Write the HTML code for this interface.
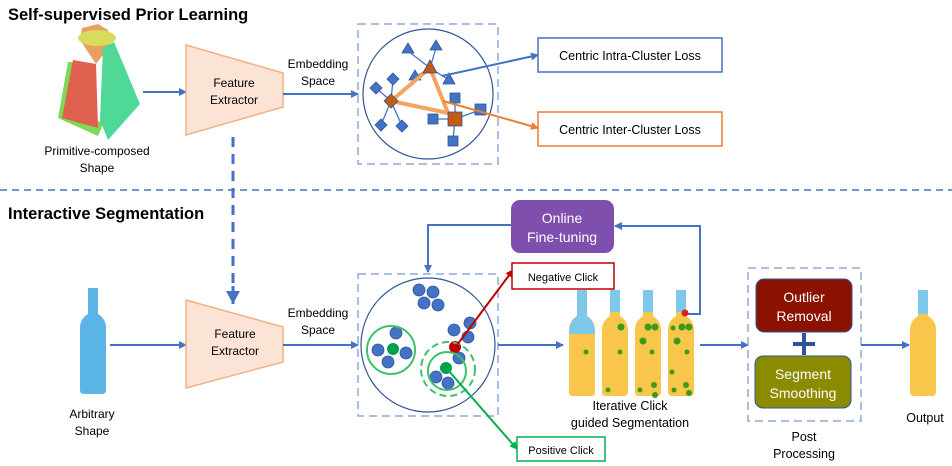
<!DOCTYPE html>
<html><head><meta charset="utf-8"><style>
html,body{margin:0;padding:0;background:#fff;}
svg{display:block;font-family:"Liberation Sans",Arial,sans-serif;}
</style></head><body>
<svg width="952" height="466" viewBox="0 0 952 466" xmlns="http://www.w3.org/2000/svg">
<defs>
<marker id="ab" markerWidth="8" markerHeight="8" refX="7" refY="4" orient="auto" markerUnits="userSpaceOnUse"><path d="M0,0 L8,4 L0,8 z" fill="#4472c4"/></marker>
<marker id="ao" markerWidth="8" markerHeight="8" refX="7" refY="4" orient="auto" markerUnits="userSpaceOnUse"><path d="M0,0 L8,4 L0,8 z" fill="#ed7d31"/></marker>
<marker id="ar" markerWidth="8" markerHeight="8" refX="7" refY="4" orient="auto" markerUnits="userSpaceOnUse"><path d="M0,0 L8,4 L0,8 z" fill="#c00000"/></marker>
<marker id="ag" markerWidth="8" markerHeight="8" refX="7" refY="4" orient="auto" markerUnits="userSpaceOnUse"><path d="M0,0 L8,4 L0,8 z" fill="#00b050"/></marker>
<marker id="abig" markerWidth="14" markerHeight="14" refX="13" refY="7" orient="auto" markerUnits="userSpaceOnUse"><path d="M0,0 L13,7 L0,14 z" fill="#4472c4"/></marker>
<g id="bottle"><path d="M-5,0 h10 v26 q8,5 8,14 v62 q0,4 -4,4 h-18 q-4,0 -4,-4 v-62 q0,-9 8,-14 z"/></g>
</defs>

<text x="8" y="20" font-size="16.5" font-weight="bold">Self-supervised Prior Learning</text>
<text x="8" y="219" font-size="16.5" font-weight="bold">Interactive Segmentation</text>
<line x1="0" y1="190" x2="952" y2="190" stroke="#4472c4" stroke-width="1.5" stroke-dasharray="7,5"/>

<!-- top shape -->
<polygon points="68,62 58,118 98,136 104,122 66,116 74,62" fill="#7ed957"/>
<polygon points="73,60 62,118 98,128 96,64" fill="#e0604f"/>
<polygon points="80,40 82,28 98,24 108,30 110,46 96,64" fill="#e8a060"/>
<ellipse cx="97" cy="38" rx="19" ry="8" fill="#d8dc5a"/>
<polygon points="103,48 114,42 140,104 108,140 100,120" fill="#4fd896"/>
<text x="97" y="155" font-size="12" text-anchor="middle">Primitive-composed</text>
<text x="97" y="172" font-size="12" text-anchor="middle">Shape</text>
<line x1="143" y1="92" x2="186" y2="92" stroke="#4472c4" stroke-width="2" marker-end="url(#ab)"/>

<polygon points="186,45 283,73 283,107 186,135" fill="#fbe4d5" stroke="#f4b183" stroke-width="1.5"/>
<text x="234" y="87" font-size="12" text-anchor="middle">Feature</text>
<text x="234" y="104" font-size="12" text-anchor="middle">Extractor</text>
<text x="318" y="68" font-size="12" text-anchor="middle">Embedding</text>
<text x="318" y="85" font-size="12" text-anchor="middle">Space</text>
<line x1="283" y1="94" x2="358" y2="94" stroke="#4472c4" stroke-width="2" marker-end="url(#ab)"/>
<line x1="233" y1="137" x2="233" y2="288" stroke="#4472c4" stroke-width="3" stroke-dasharray="10,7"/>
<line x1="233" y1="286" x2="233" y2="304" stroke="#4472c4" stroke-width="3" marker-end="url(#abig)"/>

<rect x="358" y="24" width="140" height="140" fill="none" stroke="#8faadc" stroke-width="1.5" stroke-dasharray="8,5"/>
<circle cx="428" cy="94" r="65" fill="none" stroke="#2f5597" stroke-width="1.2"/>
<g stroke="#4472c4" stroke-width="1.3">
<line x1="430" y1="68" x2="408" y2="51"/><line x1="430" y1="68" x2="436" y2="48"/><line x1="430" y1="68" x2="415" y2="77"/><line x1="430" y1="68" x2="449" y2="80"/>
<line x1="391" y1="101" x2="376" y2="88"/><line x1="391" y1="101" x2="393" y2="79"/><line x1="391" y1="101" x2="381" y2="125"/><line x1="391" y1="101" x2="402" y2="126"/>
<line x1="455" y1="119" x2="433" y2="119"/><line x1="455" y1="119" x2="455" y2="99"/><line x1="455" y1="119" x2="480" y2="110"/><line x1="455" y1="119" x2="453" y2="140"/>
</g>
<g fill="#4472c4" stroke="#2f5597" stroke-width="0.8">
<polygon points="408,43 402,53 414,53"/><polygon points="436,40 430,50 442,50"/><polygon points="415,70 409,80 421,80"/><polygon points="449,73 443,84 455,84"/>
<polygon points="376,82 382,88 376,94 370,88"/><polygon points="393,73 399,79 393,85 387,79"/><polygon points="381,119 387,125 381,131 375,125"/><polygon points="402,120 408,126 402,132 396,126"/>
<rect x="428" y="114" width="10" height="10"/><rect x="450" y="93" width="10" height="10"/><rect x="475" y="104" width="11" height="11"/><rect x="448" y="136" width="10" height="10"/>
</g>
<polygon points="430,68 391,101 448,113" fill="none" stroke="#f4a460" stroke-width="4" stroke-linejoin="round"/>
<polygon points="430,60 423,73 437,73" fill="#c55a11" stroke="#2f5597" stroke-width="0.8"/>
<polygon points="391,94 398,101 391,108 384,101" fill="#c55a11" stroke="#2f5597" stroke-width="0.8"/>
<rect x="448" y="112" width="14" height="14" fill="#c55a11" stroke="#2f5597" stroke-width="0.8"/>
<line x1="442" y1="76" x2="538" y2="55" stroke="#4472c4" stroke-width="2" marker-end="url(#ab)"/>
<line x1="443" y1="101" x2="538" y2="128" stroke="#ed7d31" stroke-width="2" marker-end="url(#ao)"/>
<rect x="538" y="38" width="184" height="34" fill="#fff" stroke="#4472c4" stroke-width="1.5"/>
<text x="630" y="60" font-size="12.5" text-anchor="middle">Centric Intra-Cluster Loss</text>
<rect x="538" y="112" width="184" height="34" fill="#fff" stroke="#ed7d31" stroke-width="1.5"/>
<text x="630" y="134" font-size="12.5" text-anchor="middle">Centric Inter-Cluster Loss</text>

<!-- bottom -->
<use href="#bottle" x="93" y="288" fill="#5ab4e5"/>
<text x="92" y="418" font-size="12" text-anchor="middle">Arbitrary</text>
<text x="92" y="435" font-size="12" text-anchor="middle">Shape</text>
<line x1="110" y1="345" x2="186" y2="345" stroke="#4472c4" stroke-width="2" marker-end="url(#ab)"/>
<polygon points="186,300 283,327 283,362 186,388" fill="#fbe4d5" stroke="#f4b183" stroke-width="1.5"/>
<text x="235" y="338" font-size="12" text-anchor="middle">Feature</text>
<text x="235" y="355" font-size="12" text-anchor="middle">Extractor</text>
<text x="318" y="317" font-size="12" text-anchor="middle">Embedding</text>
<text x="318" y="334" font-size="12" text-anchor="middle">Space</text>
<line x1="283" y1="345" x2="358" y2="345" stroke="#4472c4" stroke-width="2" marker-end="url(#ab)"/>

<rect x="358" y="274" width="140" height="142" fill="none" stroke="#8faadc" stroke-width="1.5" stroke-dasharray="8,5"/>
<circle cx="428" cy="345" r="67" fill="none" stroke="#2f5597" stroke-width="1.2"/>
<g fill="#4472c4" stroke="#2f5597" stroke-width="0.8">
<circle cx="419" cy="290" r="6"/><circle cx="433" cy="292" r="6"/><circle cx="424" cy="303" r="6"/><circle cx="438" cy="305" r="6"/>
<circle cx="470" cy="323" r="6"/><circle cx="454" cy="330" r="6"/><circle cx="468" cy="337" r="6"/>
<circle cx="396" cy="333" r="6"/><circle cx="378" cy="350" r="6"/><circle cx="406" cy="353" r="6"/><circle cx="388" cy="362" r="6"/>
<circle cx="459" cy="358" r="6"/><circle cx="436" cy="377" r="6"/><circle cx="448" cy="383" r="6"/>
</g>
<circle cx="393" cy="349" r="6" fill="#00a050"/>
<circle cx="446" cy="368" r="6" fill="#00a050"/>
<circle cx="455" cy="347" r="6" fill="#c00000"/>
<circle cx="391" cy="350" r="24" fill="none" stroke="#3fc06a" stroke-width="2"/>
<circle cx="447" cy="371" r="19" fill="none" stroke="#3fc06a" stroke-width="2"/>
<circle cx="448" cy="369" r="27" fill="none" stroke="#3fc06a" stroke-width="2" stroke-dasharray="7,4"/>
<line x1="457" y1="345" x2="513" y2="270" stroke="#c00000" stroke-width="2" marker-end="url(#ar)"/>
<line x1="448" y1="370" x2="517" y2="449" stroke="#00b050" stroke-width="2" marker-end="url(#ag)"/>
<rect x="512" y="263" width="102" height="26" fill="#fff" stroke="#c00000" stroke-width="1.5"/>
<text x="563" y="281" font-size="11" text-anchor="middle">Negative Click</text>
<rect x="517" y="437" width="88" height="24" fill="#fff" stroke="#00b050" stroke-width="1.5"/>
<text x="561" y="454" font-size="11" text-anchor="middle">Positive Click</text>

<rect x="511" y="200" width="103" height="53" rx="9" fill="#7f4fae"/>
<text x="562" y="223" font-size="14" fill="#fff" text-anchor="middle">Online</text>
<text x="562" y="242" font-size="14" fill="#fff" text-anchor="middle">Fine-tuning</text>
<polyline points="511,225 428,225 428,272" fill="none" stroke="#4472c4" stroke-width="2" marker-end="url(#ab)"/>
<polyline points="688,314 700,314 700,226 615,226" fill="none" stroke="#4472c4" stroke-width="2" marker-end="url(#ab)"/>

<line x1="498" y1="345" x2="563" y2="345" stroke="#4472c4" stroke-width="2" marker-end="url(#ab)"/>
<g fill="#f7c64a">
<use href="#bottle" x="582" y="290"/><use href="#bottle" x="615" y="290"/><use href="#bottle" x="648" y="290"/><use href="#bottle" x="681" y="290"/>
</g>
<g fill="#7ec8ea">
<path d="M577,290 h10 v26 q8,5 8,18 h-26 q0,-13 8,-18z"/>
<rect x="610" y="290" width="10" height="22"/><rect x="643" y="290" width="10" height="22"/><rect x="676" y="290" width="10" height="22"/>
</g>
<g fill="#3a9a1a">
<circle cx="586" cy="352" r="2.5"/><circle cx="621" cy="327" r="3.5"/><circle cx="620" cy="352" r="2.5"/><circle cx="608" cy="390" r="2.5"/>
<circle cx="648" cy="327" r="3.5"/><circle cx="655" cy="327" r="3.5"/><circle cx="643" cy="341" r="3.5"/><circle cx="652" cy="352" r="2.5"/><circle cx="654" cy="385" r="3"/><circle cx="655" cy="395" r="3"/><circle cx="640" cy="390" r="2.5"/>
<circle cx="682" cy="327" r="3.5"/><circle cx="689" cy="327" r="3.5"/><circle cx="677" cy="341" r="3.5"/><circle cx="687" cy="352" r="2.5"/><circle cx="672" cy="372" r="2.5"/><circle cx="686" cy="385" r="3"/><circle cx="689" cy="393" r="3"/><circle cx="674" cy="390" r="2.5"/><circle cx="673" cy="328" r="2.5"/>
</g>
<circle cx="685" cy="313" r="3.5" fill="#e02020"/>
<text x="630" y="410" font-size="12.5" text-anchor="middle">Iterative Click</text>
<text x="630" y="427" font-size="12.5" text-anchor="middle">guided Segmentation</text>

<line x1="700" y1="345" x2="748" y2="345" stroke="#4472c4" stroke-width="2" marker-end="url(#ab)"/>
<rect x="748" y="268" width="113" height="153" fill="none" stroke="#8faadc" stroke-width="1.5" stroke-dasharray="8,5"/>
<rect x="756" y="279" width="96" height="53" rx="8" fill="#8b1200" stroke="#2f5597" stroke-width="1"/>
<text x="804" y="302" font-size="14" fill="#fff" text-anchor="middle">Outlier</text>
<text x="804" y="321" font-size="14" fill="#fff" text-anchor="middle">Removal</text>
<path d="M793,344 h22 M804,333 v22" stroke="#2f5597" stroke-width="4"/>
<rect x="755" y="356" width="96" height="52" rx="8" fill="#8b8b00" stroke="#2f5597" stroke-width="1"/>
<text x="803" y="379" font-size="14" fill="#fff" text-anchor="middle">Segment</text>
<text x="803" y="398" font-size="14" fill="#fff" text-anchor="middle">Smoothing</text>
<text x="804" y="441" font-size="12.5" text-anchor="middle">Post</text>
<text x="804" y="458" font-size="12.5" text-anchor="middle">Processing</text>
<line x1="861" y1="345" x2="909" y2="345" stroke="#4472c4" stroke-width="2" marker-end="url(#ab)"/>
<use href="#bottle" x="923" y="290" fill="#f7c64a"/>
<rect x="918" y="290" width="10" height="24" fill="#7ec8ea"/>
<text x="925" y="422" font-size="12.5" text-anchor="middle">Output</text>
</svg>
</body></html>
